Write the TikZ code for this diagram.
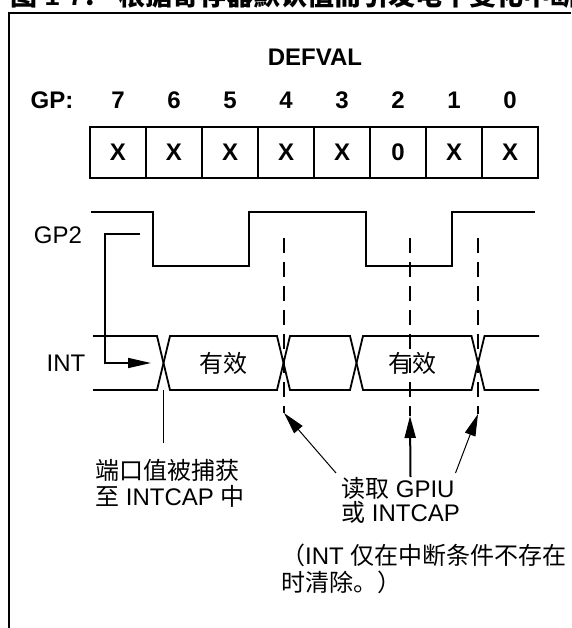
\documentclass[tikz,border=0pt]{standalone}
\usepackage{fontspec}
\setmainfont{Liberation Sans}
\newfontfamily\cjk{Noto Sans CJK SC}
\usetikzlibrary{arrows.meta}
\begin{document}
\begin{tikzpicture}[x=1pt,y=-1pt,
  txt/.style={inner sep=0pt,font=\fontsize{24}{28}\selectfont},
  btxt/.style={inner sep=0pt,font=\bfseries\fontsize{24}{28}\selectfont},
  cell/.style={draw,line width=1.8pt,minimum width=56pt,minimum height=51pt,inner sep=0pt,font=\bfseries\fontsize{24}{28}\selectfont},
  sig/.style={line width=1.8pt},
  dsh/.style={line width=1.8pt,dash pattern=on 15pt off 9pt},
  ptr/.style={line width=1pt,-{Triangle[length=22pt,width=11pt]}},
]
\useasboundingbox (0,0) rectangle (571,628);
\clip (0,0) rectangle (571,628);

% title (cut at the top) and frame
\node[anchor=base west,inner sep=0pt,font=\bfseries\fontsize{27}{30}\selectfont] (title) at (10,6)
  {{\cjk 图} 1-7{\cjk ：} {\cjk 根据寄存器默认值而引发电平变化中断}};
\draw[line width=2.5pt] (571,13) -- (9,13) -- (9,628);

% DEFVAL register
\node[btxt] (defval) at (315,57) {DEFVAL};
\node[btxt] (gp) at (52,100) {GP:};
\foreach \b/\v [count=\i from 0] in {7/X,6/X,5/X,4/X,3/X,2/0,1/X,0/X} {
  \node[btxt] (n\b) at (118+56*\i,100) {\b};
  \node[cell] (c\b) at (118+56*\i,152.5) {\v};
}

% GP2 waveform
\node[txt] (gp2) at (58,235) {GP2};
\draw[sig] (91,212) -- (153,212) -- (153,266) -- (249,266) -- (249,212) -- (366,212)
  -- (366,266) -- (452,266) -- (452,212) -- (535,212);

% INT bus
\node[txt] (int) at (66,363) {INT};
\draw[sig] (93,336) -- (157,336) -- (170,390) -- (277,390) -- (290,336) -- (350,336)
  -- (363,390) -- (471.5,390) -- (484.5,336) -- (539,336);
\draw[sig] (93,390) -- (157,390) -- (170,336) -- (277,336) -- (290,390) -- (350,390)
  -- (363,336) -- (471.5,336) -- (484.5,390) -- (539,390);
\node[txt,font=\cjk\fontsize{24}{28}\selectfont] (v1) at (223,363) {有效};
\node[txt,font=\cjk\fontsize{24}{28}\selectfont] (v2) at (412,363) {有效};

% capture arrow from GP2 to INT
\coordinate (gp2s) at (140,234);
\coordinate (capb) at (105,363);
\coordinate (capt) at (151,363);
\draw[line width=1.6pt,-{Triangle[length=23pt,width=10pt]}] (gp2s) -| (capb) -- (capt);

% capture marker line
\coordinate (m1t) at (163.5,390);
\coordinate (m1b) at (163.5,443);
\draw[sig] (m1t) -- (m1b);

% dashed read markers
\coordinate (d1t) at (284,238); \coordinate (d1b) at (284,413);
\coordinate (d2t) at (410,238); \coordinate (d2b) at (410,416);
\coordinate (d3t) at (478,238); \coordinate (d3b) at (478,414);
\draw[dsh] (d1t) -- (d1b);
\draw[dsh] (d2t) -- (d2b);
\draw[dsh] (d3t) -- (d3b);

% labels
\node[txt,anchor=base west] (l1a) at (95,479) {\cjk 端口值被捕获};
\node[txt,anchor=base west] (l1b) at (95,505) {{\cjk 至} INTCAP {\cjk 中}};
\node[txt,anchor=base west] (l2a) at (341,497) {{\cjk 读取} GPIU};
\node[txt,anchor=base west] (l2b) at (341,521) {{\cjk 或} INTCAP};
\node[txt,anchor=base west] (l3a) at (281,564) {{\cjk （}INT {\cjk 仅在中断条件不存在}};
\node[txt,anchor=base west] (l3b) at (281,591) {\cjk 时清除。）};

% read arrows
\coordinate (a1s) at (336,473);
\coordinate (a2s) at (410.5,477);
\coordinate (a3s) at (455.5,473);
\draw[ptr] (a1s) -- (d1b);
\draw[ptr,line width=2pt] (a2s) -- (d2b);
\draw[ptr] (a3s) -- (d3b);
\end{tikzpicture}
\end{document}
